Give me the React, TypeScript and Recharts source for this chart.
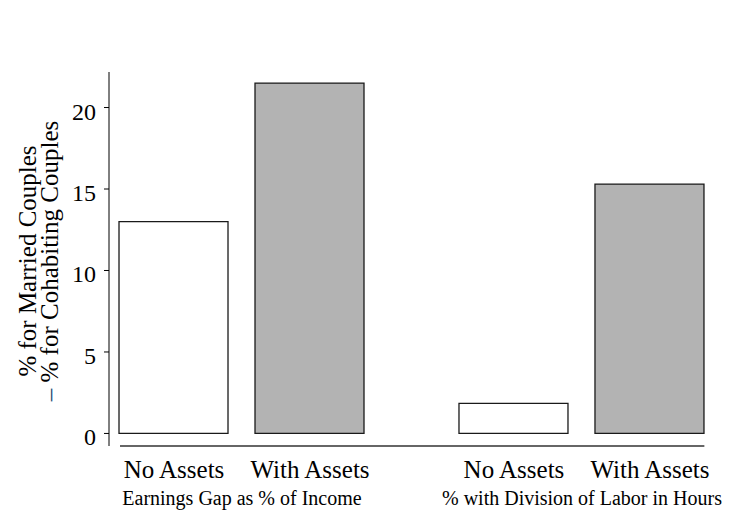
import { BarChart, Bar, XAxis, YAxis, Cell, ReferenceLine } from 'recharts';

const categories = ['No Assets', 'With Assets', 'No Assets', 'With Assets'];
const positions = [1, 2, 3.5, 4.5];
const values = [13.0, 21.5, 1.85, 15.3];
const assetFlags = [false, true, false, true];

const groups = ['Earnings Gap as % of Income', '% with Division of Labor in Hours'];
const groupPositions = [1.5, 4];

const yTicks = [0, 5, 10, 15, 20];

const FONT = 'Liberation Serif, DejaVu Serif, serif';

const data = positions.map((x, i) => ({
    x,
    name: categories[i],
    value: values[i],
    assets: assetFlags[i]
}));

const xTicks = [...positions, ...groupPositions].sort((a, b) => a - b);

function XTick({ x, y, payload }: any) {
    const gi = groupPositions.indexOf(payload.value);
    if (gi >= 0) {
        return (
            <text x={x} y={y + 59} textAnchor="middle" style={{ fontFamily: FONT, fontSize: 20 }} fill="#000">
                {groups[gi]}
            </text>
        );
    }
    const ci = positions.indexOf(payload.value);
    return (
        <text x={x} y={y + 32} textAnchor="middle" style={{ fontFamily: FONT, fontSize: 25 }} fill="#000">
            {categories[ci]}
        </text>
    );
}

function YTick({ x, y, payload }: any) {
    return (
        <text x={x} y={y + 12} textAnchor="end" style={{ fontFamily: FONT, fontSize: 24 }} fill="#000">
            {payload.value}
        </text>
    );
}

function YLabel() {
    const cy = 261;
    return (
        <g style={{ fontFamily: FONT, fontSize: 25 }} fill="#000">
            <text x={36} y={cy} textAnchor="middle" transform={`rotate(-90 36 ${cy})`}>
                % for Married Couples
            </text>
            <text x={58} y={cy} textAnchor="middle" transform={`rotate(-90 58 ${cy})`}>
                <tspan fill="#1a476f">–</tspan> % for Cohabiting Couples
            </text>
        </g>
    );
}

export default function App() {
    return (
        <div style={{ position: 'absolute', left: 0, top: 0, background: '#fff' }}>
            <BarChart
                width={731}
                height={511}
                data={data}
                margin={{ top: 72, right: 25, bottom: 0, left: 49 }}
            >
                <XAxis
                    dataKey="x"
                    type="number"
                    domain={[0.522, 4.912]}
                    allowDataOverflow
                    ticks={xTicks}
                    interval={0}
                    axisLine={false}
                    tickLine={false}
                    tickSize={0}
                    tickMargin={0}
                    height={65}
                    tick={<XTick />}
                />
                <YAxis
                    type="number"
                    domain={[-0.77, 22.18]}
                    allowDataOverflow
                    ticks={yTicks}
                    width={60}
                    tickSize={5}
                    tickMargin={8}
                    axisLine={{ stroke: '#000', strokeWidth: 1 }}
                    tickLine={{ stroke: '#000', strokeWidth: 1 }}
                    tick={<YTick />}
                    label={{ content: () => <YLabel /> }}
                />
                <ReferenceLine
                    segment={[{ x: 0.603, y: -0.77 }, { x: 4.9, y: -0.77 }]}
                    stroke="#333"
                    strokeWidth={1.5}
                    ifOverflow="visible"
                />
                <Bar
                    dataKey="value"
                    barSize={109}
                    stroke="#1a1a1a"
                    strokeWidth={1.3}
                    isAnimationActive={false}
                >
                    {data.map((d, i) => (
                        <Cell key={i} fill={d.assets ? '#b3b3b3' : '#ffffff'} />
                    ))}
                </Bar>
            </BarChart>
        </div>
    );
}
